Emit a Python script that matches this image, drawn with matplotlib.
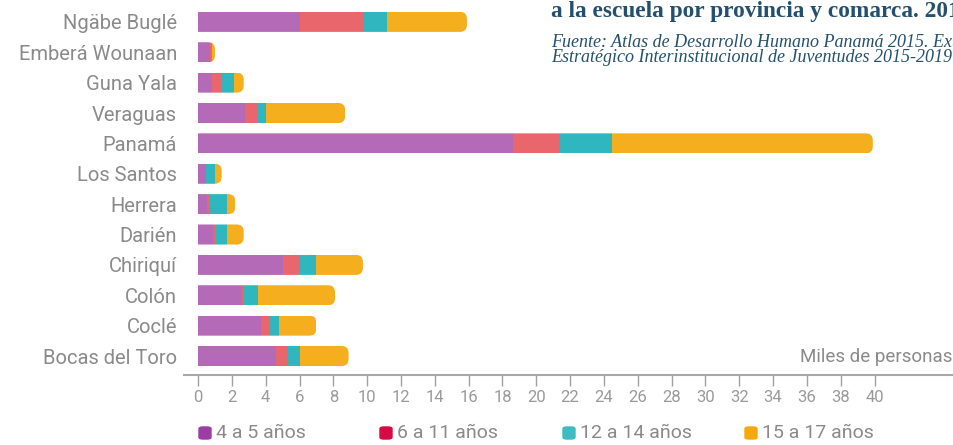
import matplotlib
matplotlib.use("Agg")
import matplotlib.pyplot as plt
from matplotlib.patches import FancyBboxPatch
import numpy as np

# Data (thousands of persons), order from top to bottom as shown
regions = ["Ngäbe Buglé", "Emberá Wounaan", "Guna Yala", "Veraguas", "Panamá",
           "Los Santos", "Herrera", "Darién", "Chiriquí", "Colón", "Coclé",
           "Bocas del Toro"]
age_4_5 = [6.0, 0.7, 0.8, 2.8, 18.6, 0.45, 0.55, 0.9, 5.0, 2.6, 3.7, 4.6]
age_6_11 = [3.8, 0.05, 0.6, 0.75, 2.8, 0.05, 0.1, 0.1, 1.0, 0.1, 0.55, 0.7]
age_12_14 = [1.4, 0.05, 0.7, 0.45, 3.1, 0.5, 1.05, 0.7, 1.0, 0.85, 0.55, 0.7]
age_15_17 = [4.7, 0.2, 0.6, 4.7, 15.4, 0.4, 0.5, 1.0, 2.75, 4.55, 2.2, 2.9]
series_labels = ["4 a 5 años", "6 a 11 años", "12 a 14 años", "15 a 17 años"]
x_ticks = list(range(0, 41, 2))

bar_colors = ["#B46AB6", "#E8666C", "#2FB6BF", "#F5AE1E"]
legend_colors = ["#9C3DA2", "#D80A45", "#3DBCC2", "#F6A80A"]

plt.rcParams['font.family'] = ['Roboto', 'DejaVu Sans']

fig = plt.figure(figsize=(9.54, 4.45), dpi=100)
ax_w_px, ax_h_px = 954 - 184, 375
ax = fig.add_axes([184 / 954, 70 / 445, ax_w_px / 954, ax_h_px / 445])

xlim = (-0.83, 44.7)
ylim = (-0.625, 11.72)
ax.set_xlim(*xlim)
ax.set_ylim(*ylim)

n = len(regions)
ypos = np.arange(n)[::-1]
bar_h = 0.66
series = [age_4_5, age_6_11, age_12_14, age_15_17]
totals = np.sum(np.array(series), axis=0)

# rounded clip shapes for the right end of each bar
x_per_px = (xlim[1] - xlim[0]) / ax_w_px
y_per_px = (ylim[1] - ylim[0]) / ax_h_px
r = 7 * x_per_px
aspect = y_per_px / x_per_px
clips = []
for y, tot in zip(ypos, totals):
    cp = FancyBboxPatch((-r, y - bar_h / 2), tot + r, bar_h,
                        boxstyle=f"round,pad=0,rounding_size={r}",
                        mutation_aspect=aspect, transform=ax.transData)
    clips.append(cp)

left = np.zeros(n)
for vals, col in zip(series, bar_colors):
    vals = np.array(vals)
    bars = ax.barh(ypos, vals, left=left, height=bar_h, color=col, linewidth=0)
    for b, cp in zip(bars, clips):
        b.set_clip_path(cp)
    left += vals

ax.set_yticks(ypos)
ax.set_yticklabels(regions, fontsize=14.5, color="#8a8a8a")
ax.tick_params(axis='y', length=0, pad=5)
ax.set_xticks(x_ticks)
ax.set_xticklabels([str(t) for t in x_ticks], fontsize=12, color="#9a9a9a")
ax.tick_params(axis='x', length=8, width=1, color="#a0a0a0", pad=3, direction='out')
for s in ["top", "right", "left"]:
    ax.spines[s].set_visible(False)
ax.spines["bottom"].set_color("#a8a8a8")
ax.spines["bottom"].set_linewidth(1.5)

fig.text(800 / 954, 1 - 357 / 445, "Miles de personas",
         ha='left', va='center', fontsize=13.5, color="#8a8a8a")

# Title and source (top right, clipped by figure edge as in the original)
fig.text(551 / 954, 1 - 11 / 445, "a la escuela por provincia y comarca. 2015",
         fontsize=16.8, fontweight='bold', color="#23506F", family='Liberation Serif',
         ha='left', va='center')
fig.text(551 / 954, 1 - 50 / 445,
         "Fuente: Atlas de Desarrollo Humano Panamá 2015. Extracto del Plan\n"
         "Estratégico Interinstitucional de Juventudes 2015-2019",
         fontsize=13, style='italic', color="#23506F", family='Liberation Serif',
         ha='left', va='center', linespacing=0.85)

# Legend
leg_x = [199, 380, 563, 745]
for lx, lab, col in zip(leg_x, series_labels, legend_colors):
    p = FancyBboxPatch((lx / 954, 1 - 439 / 445), 12 / 954, 12 / 445,
                       boxstyle="round,pad=0,rounding_size=0.004",
                       transform=fig.transFigure, color=col)
    fig.patches.append(p)
    fig.text((lx + 17) / 954, 1 - 433 / 445, lab, fontsize=14, color="#8a8a8a",
             ha='left', va='center')

fig.savefig("out.png", dpi=100)
